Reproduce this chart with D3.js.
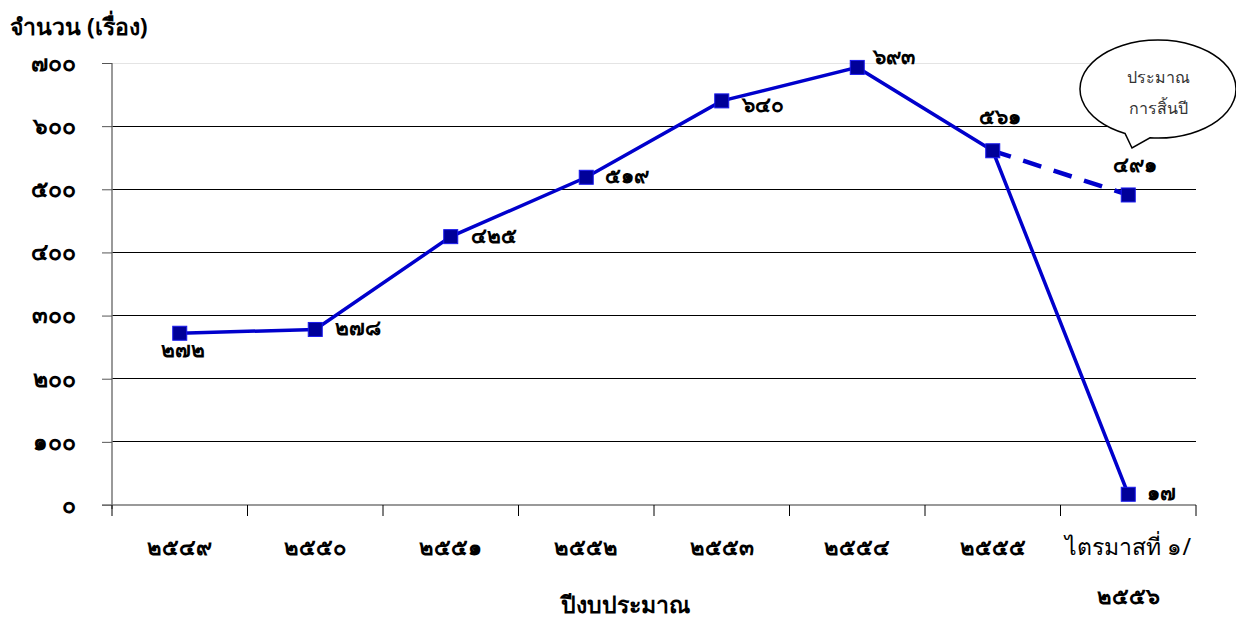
<!DOCTYPE html>
<html><head><meta charset="utf-8">
<script src="https://cdn.jsdelivr.net/npm/d3@7"></script>
<style>
body{margin:0;background:#fff;}
text{font-family:"Noto Sans","DejaVu Sans",sans-serif;}
</style></head>
<body>
<svg id="chart" width="1236" height="619"></svg>
<script>
// Data
const categories = ["๒๕๔๙","๒๕๕๐","๒๕๕๑","๒๕๕๒","๒๕๕๓","๒๕๕๔","๒๕๕๕","ไตรมาสที่ ๑/|๒๕๕๖"];
const values = [272, 278, 425, 519, 640, 693, 561, 17];
const valueLabels = ["๒๗๒","๒๗๘","๔๒๕","๕๑๙","๖๔๐","๖๙๓","๕๖๑","๑๗"];
const estimateFrom = {cat: categories[6], value: 561};
const estimateTo = {cat: categories[7], value: 491, label: "๔๙๑"};
const yTicks = [0,100,200,300,400,500,600,700];
const yTickLabels = ["๐","๑๐๐","๒๐๐","๓๐๐","๔๐๐","๕๐๐","๖๐๐","๗๐๐"];

const svg = d3.select("#chart");
const plotLeft = 112, plotRight = 1196, plotTop = 63, plotBottom = 505;

const x = d3.scaleBand().domain(categories).range([plotLeft, plotRight]);
const y = d3.scaleLinear().domain([0, 700]).range([plotBottom, plotTop]);
const cx = c => x(c) + x.bandwidth()/2;

// gridlines
svg.append("g").selectAll("line").data(yTicks.filter(t => t > 0)).join("line")
  .attr("x1", plotLeft).attr("x2", plotRight)
  .attr("y1", d => y(d)).attr("y2", d => y(d))
  .attr("stroke", d => d === 700 ? "#e4e4e4" : "#000").attr("stroke-width", 1)
  .attr("shape-rendering", "crispEdges");

// y axis
const yAxis = svg.append("g").attr("transform", `translate(${plotLeft},0)`)
  .call(d3.axisLeft(y).tickValues(yTicks).tickFormat((d,i) => yTickLabels[i]).tickSize(10).tickPadding(26));
yAxis.select(".domain").attr("stroke", "#777").attr("stroke-width", 1.5).attr("d", `M0,${plotTop}V${plotBottom+4}`);
yAxis.selectAll(".tick line").attr("stroke", "#555");
yAxis.selectAll(".tick text").attr("font-size", 23).attr("font-weight", "bold").attr("fill", "#000")
  .attr("font-family", "'Noto Sans','DejaVu Sans',sans-serif");

// x axis
const xAxis = svg.append("g").attr("transform", `translate(0,${plotBottom})`)
  .call(d3.axisBottom(x).tickSize(0).tickFormat(""));
xAxis.select(".domain").attr("stroke", "#777").attr("stroke-width", 1.5).attr("d", `M${plotLeft-10},0H${plotRight}`);
const bounds = categories.map(c => x(c)).concat([plotRight]);
xAxis.selectAll(".bt").data(bounds).join("line").attr("class","bt")
  .attr("x1", d => d).attr("x2", d => d).attr("y1", 0).attr("y2", 11)
  .attr("stroke", "#000").attr("stroke-width", 1);
categories.forEach(c => {
  const parts = c.split("|");
  parts.forEach((p, i) => {
    const isWord = /[ก-ฮ]/.test(p);
    svg.append("text").attr("x", cx(c)).attr("y", 555 + i*49)
      .attr("text-anchor", "middle").attr("font-size", isWord ? 23 : 22)
      .attr("font-weight", isWord ? "normal" : "bold").text(p);
  });
});

// axis titles
svg.append("text").attr("x", 10).attr("y", 35).attr("font-size", 23).attr("font-weight", "bold").text("จำนวน (เรื่อง)");
svg.append("text").attr("x", 625).attr("y", 613).attr("text-anchor", "middle").attr("font-size", 23).attr("font-weight", "bold").text("ปีงบประมาณ");

// estimate dashed line
svg.append("line")
  .attr("x1", cx(estimateFrom.cat)).attr("y1", y(estimateFrom.value))
  .attr("x2", cx(estimateTo.cat)).attr("y2", y(estimateTo.value))
  .attr("stroke", "#0000cc").attr("stroke-width", 4.5).attr("stroke-dasharray", "19,13");

// main line
const line = d3.line().x((d,i) => cx(categories[i])).y(d => y(d));
svg.append("path").datum(values).attr("d", line)
  .attr("fill", "none").attr("stroke", "#0000cc").attr("stroke-width", 3.5);

// markers
const pts = values.map((v,i) => ({c: categories[i], v})).concat([{c: estimateTo.cat, v: estimateTo.value}]);
svg.append("g").selectAll("rect").data(pts).join("rect")
  .attr("x", d => cx(d.c) - 7).attr("y", d => y(d.v) - 7)
  .attr("width", 14).attr("height", 14)
  .attr("fill", "#000099").attr("stroke", "#1a1aee").attr("stroke-width", 1);

// value labels
const labelOffsets = [[3, 24, "middle"], [20, 6, "start"], [20, 6, "start"], [19, 6, "start"], [20, 11, "start"], [16, -3, "start"], [-14, -27, "start"], [19, 6, "start"]];
values.forEach((v,i) => {
  const o = labelOffsets[i];
  svg.append("text").attr("x", cx(categories[i]) + o[0]).attr("y", y(v) + o[1])
    .attr("text-anchor", o[2]).attr("font-size", 21).attr("font-weight", "bold").text(valueLabels[i]);
});
svg.append("text").attr("x", cx(estimateTo.cat) - 15).attr("y", y(estimateTo.value) - 23)
  .attr("font-size", 21).attr("font-weight", "bold").text(estimateTo.label);

// callout bubble
const bx = 1158, by = 89, rx = 78, ry = 49;
const a1 = 65 * Math.PI/180, a2 = 115 * Math.PI/180;
const p1 = [bx + rx*Math.cos(a1), by + ry*Math.sin(a1)];
const p2 = [bx + rx*Math.cos(a2), by + ry*Math.sin(a2)];
const tip = [1132, 148];
svg.append("path")
  .attr("d", `M${p1[0]},${p1[1]} A${rx},${ry} 0 1 0 ${p2[0]},${p2[1]} L${tip[0]},${tip[1]} L1150,${by + ry*Math.sin(95*Math.PI/180)} A${rx},${ry} 0 0 0 ${p1[0]},${p1[1]} Z`)
  .attr("fill", "#fff").attr("stroke", "#000").attr("stroke-width", 1.5);
svg.append("text").attr("x", bx).attr("y", 83).attr("text-anchor", "middle").attr("font-size", 16).attr("fill", "#333").text("ประมาณ");
svg.append("text").attr("x", bx).attr("y", 114).attr("text-anchor", "middle").attr("font-size", 16).attr("fill", "#333").text("การสิ้นปี");
</script>
</body></html>
